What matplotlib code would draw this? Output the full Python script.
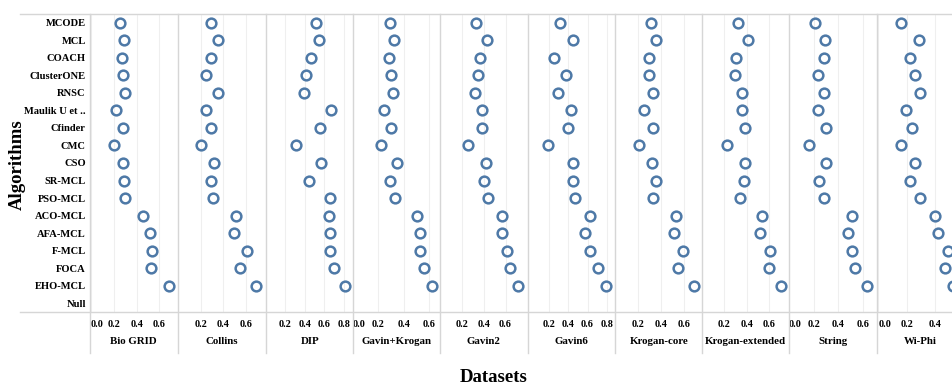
import matplotlib
matplotlib.use("Agg")
import matplotlib.pyplot as plt
from matplotlib.lines import Line2D

algorithms = ["MCODE", "MCL", "COACH", "ClusterONE", "RNSC", "Maulik U et ..",
              "Cfinder", "CMC", "CSO", "SR-MCL", "PSO-MCL", "ACO-MCL", "AFA-MCL",
              "F-MCL", "FOCA", "EHO-MCL", "Null"]

datasets = ["Bio GRID", "Collins", "DIP", "Gavin+Krogan", "Gavin2", "Gavin6",
            "Krogan-core", "Krogan-extended", "String", "Wi-Phi"]

# one list per dataset, in the order of the algorithms (Null has no value)
bio_grid = [0.25, 0.29, 0.27, 0.28, 0.30, 0.22, 0.28, 0.20, 0.28, 0.29, 0.30,
            0.455, 0.52, 0.537, 0.528, 0.68]
collins = [0.29, 0.35, 0.29, 0.25, 0.35, 0.25, 0.29, 0.20, 0.316, 0.29, 0.31,
           0.513, 0.49, 0.606, 0.542, 0.687]
dip = [0.52, 0.547, 0.465, 0.413, 0.393, 0.67, 0.557, 0.305, 0.564, 0.441, 0.663,
       0.653, 0.66, 0.656, 0.697, 0.81]
gavin_krogan = [0.293, 0.324, 0.282, 0.298, 0.319, 0.243, 0.303, 0.222, 0.345,
                0.293, 0.332, 0.502, 0.525, 0.525, 0.559, 0.62]
gavin2 = [0.333, 0.427, 0.37, 0.348, 0.318, 0.388, 0.388, 0.252, 0.421, 0.403,
          0.442, 0.57, 0.567, 0.609, 0.642, 0.712]
gavin6 = [0.316, 0.453, 0.253, 0.372, 0.291, 0.428, 0.40, 0.189, 0.445, 0.445,
          0.474, 0.621, 0.576, 0.621, 0.712, 0.79]
krogan_core = [0.313, 0.357, 0.293, 0.293, 0.333, 0.255, 0.333, 0.209, 0.322,
               0.354, 0.33, 0.53, 0.516, 0.588, 0.545, 0.69]
krogan_ext = [0.324, 0.412, 0.306, 0.297, 0.361, 0.355, 0.385, 0.224, 0.385,
              0.373, 0.336, 0.539, 0.515, 0.603, 0.597, 0.706]
string = [0.212, 0.29, 0.286, 0.232, 0.282, 0.232, 0.30, 0.166, 0.30, 0.24,
          0.286, 0.51, 0.48, 0.51, 0.54, 0.633]
wi_phi = [0.157, 0.288, 0.221, 0.257, 0.295, 0.193, 0.238, 0.157, 0.257, 0.226,
          0.293, 0.402, 0.426, 0.495, 0.47, 0.53]

values = [bio_grid, collins, dip, gavin_krogan, gavin2, gavin6,
          krogan_core, krogan_ext, string, wi_phi]

ticks = [[0.0, 0.2, 0.4, 0.6], [0.2, 0.4, 0.6], [0.2, 0.4, 0.6, 0.8],
         [0.0, 0.2, 0.4, 0.6], [0.2, 0.4, 0.6], [0.2, 0.4, 0.6, 0.8],
         [0.2, 0.4, 0.6], [0.2, 0.4, 0.6], [0.0, 0.2, 0.4, 0.6], [0.0, 0.2, 0.4]]

xlims = [(-0.009, 0.757), (0.0, 0.77), (0.0, 0.9), (0.0, 0.69), (0.0, 0.8),
         (-0.02, 0.89), (0.0, 0.76), (0.0, 0.78), (0.0, 0.71), (-0.01, 0.61)]

W, H = 952, 385
SERIF = "Liberation Serif"
BLUE = "#4e79a7"
LINE = "#d6d6d6"

plt.rcParams["font.family"] = SERIF
plt.rcParams["font.weight"] = "bold"

fig = plt.figure(figsize=(W / 100, H / 100), dpi=100)

lefts = [90, 178, 266, 353, 440, 528, 615, 702, 789, 877]
pw = 87.4
top, bottom = 14, 312

for i, name in enumerate(datasets):
    ax = fig.add_axes([lefts[i] / W, (H - bottom) / H, pw / W, (bottom - top) / H])
    vals = values[i]
    ax.plot(vals, range(len(vals)), "o", mfc="none", mec=BLUE, ms=7, mew=1.8,
            clip_on=False)
    ax.set_xlim(*xlims[i])
    ax.set_ylim(len(algorithms) - 0.5, -0.5)
    ax.set_xticks(ticks[i])
    labels = ax.set_xticklabels([f"{t:.1f}" for t in ticks[i]], fontsize=7.3,
                                fontweight="bold")
    if ticks[i][0] == 0.0:
        labels[0].set_horizontalalignment("left")
    ax.tick_params(axis="x", length=0, pad=6)
    ax.grid(axis="x", color="#efefef", lw=0.8)
    ax.set_axisbelow(True)
    for s in ax.spines.values():
        s.set_visible(False)
    if i == 0:
        ax.set_yticks(range(len(algorithms)))
        ax.set_yticklabels(algorithms, fontsize=7.6, fontweight="bold")
        ax.tick_params(axis="y", length=0, pad=3)
    else:
        ax.set_yticks([])
    fig.text((lefts[i] + pw / 2) / W, 1 - 341 / H, name, ha="center", va="center",
             fontsize=7.8, fontweight="bold")

# frame lines
fig.add_artist(Line2D([20 / W, 1], [1 - top / H] * 2, color=LINE, lw=1))
fig.add_artist(Line2D([20 / W, 1], [1 - bottom / H] * 2, color=LINE, lw=1))
for x in lefts:
    fig.add_artist(Line2D([x / W] * 2, [1 - top / H, 1 - 353 / H], color=LINE, lw=1))

fig.text(17 / W, 1 - 165 / H, "Algorithms", rotation=90, ha="center", va="center",
         fontsize=13.5, fontweight="bold")
fig.text(494 / W, 1 - 378 / H, "Datasets", ha="center", va="center",
         fontsize=13.5, fontweight="bold")

fig.savefig("out.png", dpi=100)
